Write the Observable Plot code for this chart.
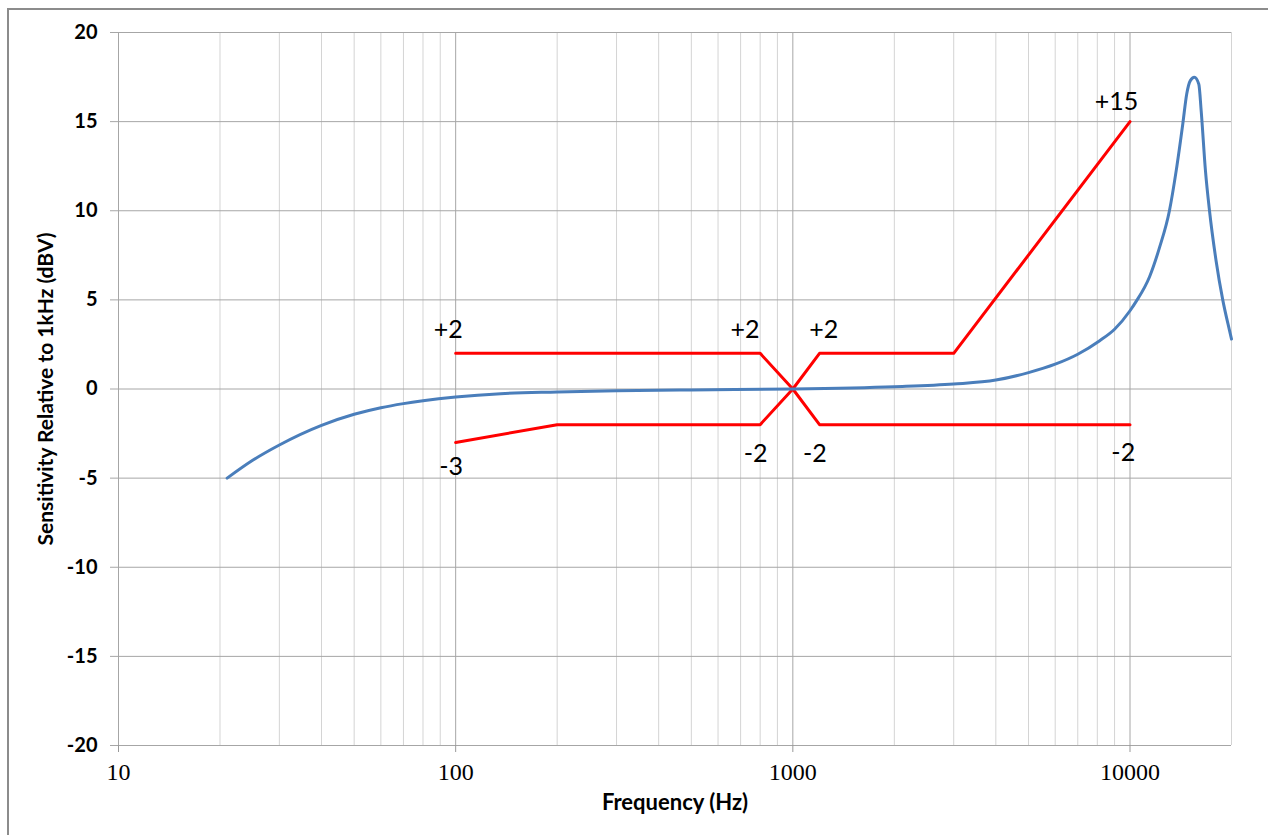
<!DOCTYPE html>
<html><head><meta charset="utf-8">
<script src="https://cdn.jsdelivr.net/npm/d3@7"></script>
<script src="https://cdn.jsdelivr.net/npm/@observablehq/plot@0.6"></script>
<style>
html,body{margin:0;padding:0;background:#fff;overflow:hidden;width:1268px;height:835px}
#frame{position:absolute;left:7px;top:8px;width:1300px;height:900px;border-left:2px solid #8c8c8c;border-top:2px solid #8c8c8c}
#chart{position:absolute;left:0;top:0}
</style></head><body>
<div id="frame"></div><div id="chart"></div>
<script>
// Measured microphone response (blue)
const freq = [21, 25, 30, 40, 50, 60, 70, 80, 100, 136, 200, 300, 500, 1000, 2000, 3000, 4000, 5000, 6000, 7000, 8130, 9000, 10000, 10420, 11430, 12230, 13090, 13710, 14340, 14730, 15100, 15520, 16000, 16260, 16740, 17210, 18000, 18840, 19720, 20000];
const response = [-5.0, -4.0, -3.14, -2.04, -1.42, -1.05, -0.82, -0.66, -0.45, -0.26, -0.17, -0.1, -0.05, 0, 0.13, 0.28, 0.5, 0.92, 1.39, 1.95, 2.71, 3.35, 4.39, 4.9, 6.3, 7.93, 10.0, 12.25, 14.87, 16.55, 17.3, 17.49, 17.1, 15.6, 12.25, 10.0, 7.2, 5.0, 3.3, 2.8];

// Tolerance limits (red)
const upperFreq = [100, 800, 1000, 1200, 3000, 10000];
const upperDb = [2, 2, 0, 2, 2, 15];
const lowerFreq = [100, 200, 800, 1000, 1200, 10000];
const lowerDb = [-3, -2, -2, 0, -2, -2];

// Limit annotations
const labelText = ["+2", "-3", "+2", "+2", "-2", "-2", "-2", "+15"];
const labelFreq = [95, 97, 721, 1236, 776, 1162, 9550, 9120];
const labelDb = [3.3, -4.35, 3.3, 3.3, -3.65, -3.65, -3.6, 16.1];

// Axes
const decadeTicks = [10, 100, 1000, 10000];
const minorGrid = [20, 30, 40, 50, 60, 70, 80, 90, 200, 300, 400, 500, 600, 700, 800, 900, 2000, 3000, 4000, 5000, 6000, 7000, 8000, 9000, 20000];
const yTicks = [-20, -15, -10, -5, 0, 5, 10, 15, 20];

const blue = freq.map((f, i) => ({f, v: response[i]}));
const upper = upperFreq.map((f, i) => ({f, v: upperDb[i]}));
const lower = lowerFreq.map((f, i) => ({f, v: lowerDb[i]}));
const labels = labelText.map((t, i) => ({t, f: labelFreq[i], v: labelDb[i]}));

const chart = Plot.plot({
  width: 1268,
  height: 835,
  marginLeft: 118,
  marginRight: 37,
  marginTop: 32,
  marginBottom: 90,
  style: {fontFamily: "Lato", background: "transparent", overflow: "visible"},
  x: {type: "log", domain: [10, 20000]},
  y: {domain: [-20, 20]},
  marks: [
    Plot.ruleX(minorGrid, {stroke: "#d4d4d4", strokeWidth: 1}),
    Plot.ruleX(decadeTicks, {stroke: "#a6a6a6", strokeWidth: 1}),
    Plot.ruleY(yTicks, {stroke: "#a6a6a6", strokeWidth: 1}),
    Plot.axisX(decadeTicks, {tickSize: 7, tickFormat: () => "", stroke: "#999", label: null}),
    Plot.text(decadeTicks, {x: d => d, frameAnchor: "bottom", lineAnchor: "middle", dy: 27, text: d => String(d), fontFamily: "Liberation Serif", fontSize: 24, fill: "#000"}),
    Plot.axisY(yTicks, {tickSize: 8, tickPadding: 13, tickFormat: d => String(d), fontSize: 20, fontWeight: "bold", stroke: "#a6a6a6", fill: "#000", label: null}),
    Plot.line(upper, {x: "f", y: "v", stroke: "#ff0000", strokeWidth: 3}),
    Plot.line(lower, {x: "f", y: "v", stroke: "#ff0000", strokeWidth: 3}),
    Plot.line(blue, {x: "f", y: "v", stroke: "#4a7ebb", strokeWidth: 3, curve: "monotone-x"}),
    Plot.text(labels, {x: "f", y: "v", text: "t", fontSize: 25, fill: "#000"}),
    Plot.text(["Frequency (Hz)"], {frameAnchor: "bottom", textAnchor: "middle", dy: 64, fontSize: 22, fontWeight: "bold", fill: "#000"}),
    Plot.text(["Sensitivity Relative to 1kHz (dBV)"], {frameAnchor: "left", textAnchor: "middle", dx: -72, rotate: -90, fontSize: 21, fontWeight: "bold", fill: "#000"})
  ]
});
document.getElementById("chart").appendChild(chart);
</script>
</body></html>
